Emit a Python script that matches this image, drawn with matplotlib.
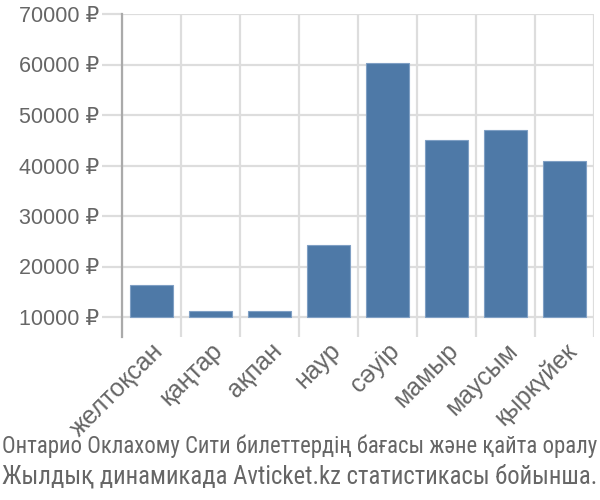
import matplotlib
matplotlib.use("Agg")
import matplotlib.pyplot as plt
import numpy as np
from matplotlib.ticker import FixedLocator

categories = ["желтоқсан", "қаңтар", "ақпан", "наур", "сәуір", "мамыр", "маусым", "қыркүйек"]
values = [16300, 11100, 11100, 24200, 60200, 45100, 47000, 40800]
yticks = [10000, 20000, 30000, 40000, 50000, 60000, 70000]
ytick_labels = [f"{v} ₽" for v in yticks]
title_lines = ["Онтарио Оклахому Сити билеттердің бағасы және қайта оралу",
               "Жылдық динамикада Avticket.kz статистикасы бойынша."]

plt.rcParams['font.family'] = ['Liberation Sans', 'DejaVu Sans']

W, H = 600, 500
fig = plt.figure(figsize=(6, 5), dpi=100)
left, right, top, bottom = 122, 594, 14, 337
ax = fig.add_axes([left / W, 1 - bottom / H, (right - left) / W, (bottom - top) / H])

base = 10000
px_per_unit = (317 - 14) / 60000.0
ybot = base - (bottom - 317) / px_per_unit
ax.set_ylim(ybot, 70000)
ax.set_xlim(-0.5, len(categories) - 0.5)

x = np.arange(len(categories))
heights = [v - base for v in values]
ax.bar(x, heights, bottom=base, width=0.73, color="#4e79a7",
       edgecolor="#7f9fc4", linewidth=0.8, zorder=3)

grid_c = "#dddddd"
for y in yticks:
    ax.axhline(y, color=grid_c, lw=1.6, zorder=1)
for xv in np.arange(-0.5, len(categories), 1.0):
    ax.axvline(xv, color=grid_c, lw=1.6, zorder=1)

for s in ["top", "right", "bottom"]:
    ax.spines[s].set_visible(False)
ax.spines["left"].set_color("#aaaaaa")
ax.spines["left"].set_linewidth(1.6)
ax.spines["left"].set_zorder(4)

ax.yaxis.set_major_locator(FixedLocator(yticks))
ax.set_yticklabels(ytick_labels)
ax.tick_params(axis="y", length=14.5, width=1.6, color=grid_c, pad=2,
               labelsize=15.5, labelcolor="#666666")

ax.set_xticks(x)
ax.set_xticklabels(categories, rotation=45, ha="right", va="top",
                   rotation_mode="anchor")
ax.tick_params(axis="x", length=0, pad=1, labelsize=18, labelcolor="#666666")

tfam = ['Roboto Condensed', 'DejaVu Sans']
t1 = fig.text(0.5, 1 - 446 / H, title_lines[0], ha="center", va="center",
              fontsize=16, color="#666666", family=tfam)
t2 = fig.text(0.5, 1 - 476 / H, title_lines[1], ha="center", va="center",
              fontsize=16, color="#666666", family=tfam)
fig.canvas.draw()
r = fig.canvas.get_renderer()
for t in (t1, t2):
    w = t.get_window_extent(r).width
    t.set_fontsize(16 * 596.0 / w)

fig.savefig("out.png", dpi=100)
